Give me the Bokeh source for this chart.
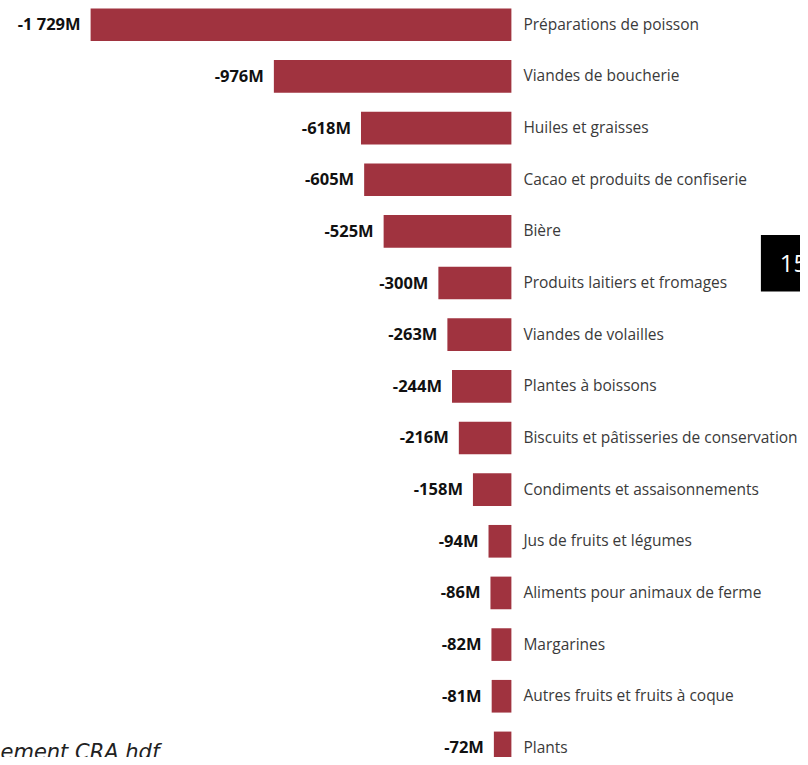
from bokeh.plotting import figure
from bokeh.models import ColumnDataSource, Range1d
from bokeh.core.properties import value
from bokeh.embed import file_html
from bokeh.resources import INLINE

categories = [
    "Préparations de poisson",
    "Viandes de boucherie",
    "Huiles et graisses",
    "Cacao et produits de confiserie",
    "Bière",
    "Produits laitiers et fromages",
    "Viandes de volailles",
    "Plantes à boissons",
    "Biscuits et pâtisseries de conservation",
    "Condiments et assaisonnements",
    "Jus de fruits et légumes",
    "Aliments pour animaux de ferme",
    "Margarines",
    "Autres fruits et fruits à  coque",
    "Plants",
]
values_m = [-1729, -976, -618, -605, -525, -300, -263, -244, -216, -158, -94, -86, -82, -81, -72]

def fmt(v):
    s = f"{abs(v):,}".replace(",", " ")
    return ("-" if v < 0 else "") + s + "M"

W, H = 800, 757
SX, SY = W / 808.0, H / 765.0
PX_PER_M = 0.2458 * SX
ZERO_PX = 516.0 * SX
ROW = 52.2 * SY
FIRST = 24.5 * SY

x_start = -ZERO_PX / PX_PER_M
x_end = (W - ZERO_PX) / PX_PER_M
y_top = -FIRST / ROW
y_bot = (H - FIRST) / ROW

def dx(px):  # reference px -> data x
    return x_start + px * SX / PX_PER_M

def dy(py):  # reference px -> data y
    return y_top + py * SY / ROW

idx = list(range(len(categories)))
src = ColumnDataSource(dict(
    y=idx,
    v=values_m,
    zero=[0] * len(idx),
    cat=categories,
    lab=[fmt(v) for v in values_m],
))

p = figure(width=W, height=H, output_backend="svg", toolbar_location=None,
           x_range=Range1d(x_start, x_end), y_range=Range1d(y_bot, y_top),
           min_border=0, min_border_left=0, min_border_right=0,
           min_border_top=0, min_border_bottom=0)
p.axis.visible = False
p.grid.visible = False
p.outline_line_color = None
p.background_fill_color = "white"
p.border_fill_color = "white"

p.hbar(y="y", left="v", right="zero", height=33.0 * SY / ROW, source=src,
       fill_color="#A0333F", line_color=None)

p.text(x="v", y="y", text="lab", source=src, x_offset=-10, y_offset=-1,
       text_align="right", text_baseline="middle",
       text_font=value("Open Sans"), text_font_style="bold",
       text_font_size="16.5px", text_color="#111111")

p.text(x="zero", y="y", text="cat", source=src, x_offset=12, y_offset=-1,
       text_align="left", text_baseline="middle",
       text_font=value("Open Sans"), text_font_size="15.5px",
       text_color="#3A3A3A")

# decorations: black tile on the right (number cut off at the edge), footnote
p.quad(left=[dx(768)], right=[dx(808)], top=[dy(237)], bottom=[dy(294)],
       fill_color="black", line_color=None)
p.text(x=[dx(787)], y=[dy(266)], text=["15"], text_align="left",
       text_baseline="middle", text_font=value("Open Sans"),
       text_font_size="24px", text_color="white")
p.text(x=[dx(0)], y=[dy(759)], text=["ement CRA hdf"], text_align="left",
       text_baseline="alphabetic", text_font=value("DejaVu Sans"),
       text_font_style="italic", text_font_size="21px", text_color="#222222")

open("out.html", "w").write(file_html(p, INLINE))
